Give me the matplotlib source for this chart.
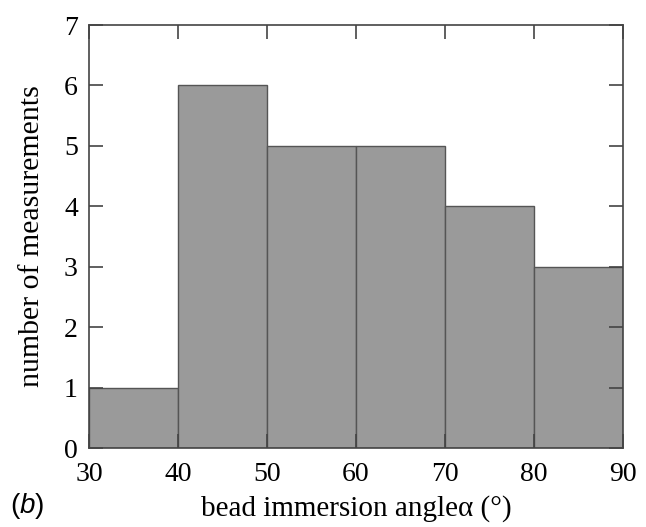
import matplotlib
matplotlib.use("Agg")
import matplotlib.pyplot as plt

bin_edges = [30, 40, 50, 60, 70, 80, 90]
counts = [1, 6, 5, 5, 4, 3]
x_ticks = [30, 40, 50, 60, 70, 80, 90]
y_ticks = [0, 1, 2, 3, 4, 5, 6, 7]

plt.rcParams['font.family'] = ['Liberation Serif', 'DejaVu Serif']
plt.rcParams['mathtext.fontset'] = 'custom'
plt.rcParams['mathtext.rm'] = 'Liberation Sans'
plt.rcParams['mathtext.it'] = 'Liberation Sans:italic'

fig = plt.figure(figsize=(6.46, 5.27), dpi=100)
ax = fig.add_axes([89/646, 79/527, (623-89)/646, (448-25)/527])

lefts = bin_edges[:-1]
widths = [b - a for a, b in zip(bin_edges[:-1], bin_edges[1:])]
ax.bar(lefts, counts, width=widths, align='edge', color='#9a9a9a',
       edgecolor='#555555', linewidth=1.0)

ax.set_xlim(30, 90)
ax.set_ylim(0, 7)
ax.set_xticks(x_ticks)
ax.set_yticks(y_ticks)
ax.tick_params(direction='in', length=10, width=1.2, color='#444444',
               labelsize=20, top=True, right=True, pad=8)
ax.tick_params(axis='x', pad=10)
for s in ax.spines.values():
    s.set_color('#444444')
    s.set_linewidth(1.2)

ax.set_ylabel('number of measurements', fontsize=21.5, labelpad=14)
ax.set_xlabel('bead immersion angle\u03b1 (°)', fontsize=21, labelpad=6)

fig.text(10/646, 1 - 506/527, r'$\mathrm{(}\mathit{b}\mathrm{)}$', fontsize=20,
         va='center', ha='left')

fig.savefig('out.png', dpi=100)
